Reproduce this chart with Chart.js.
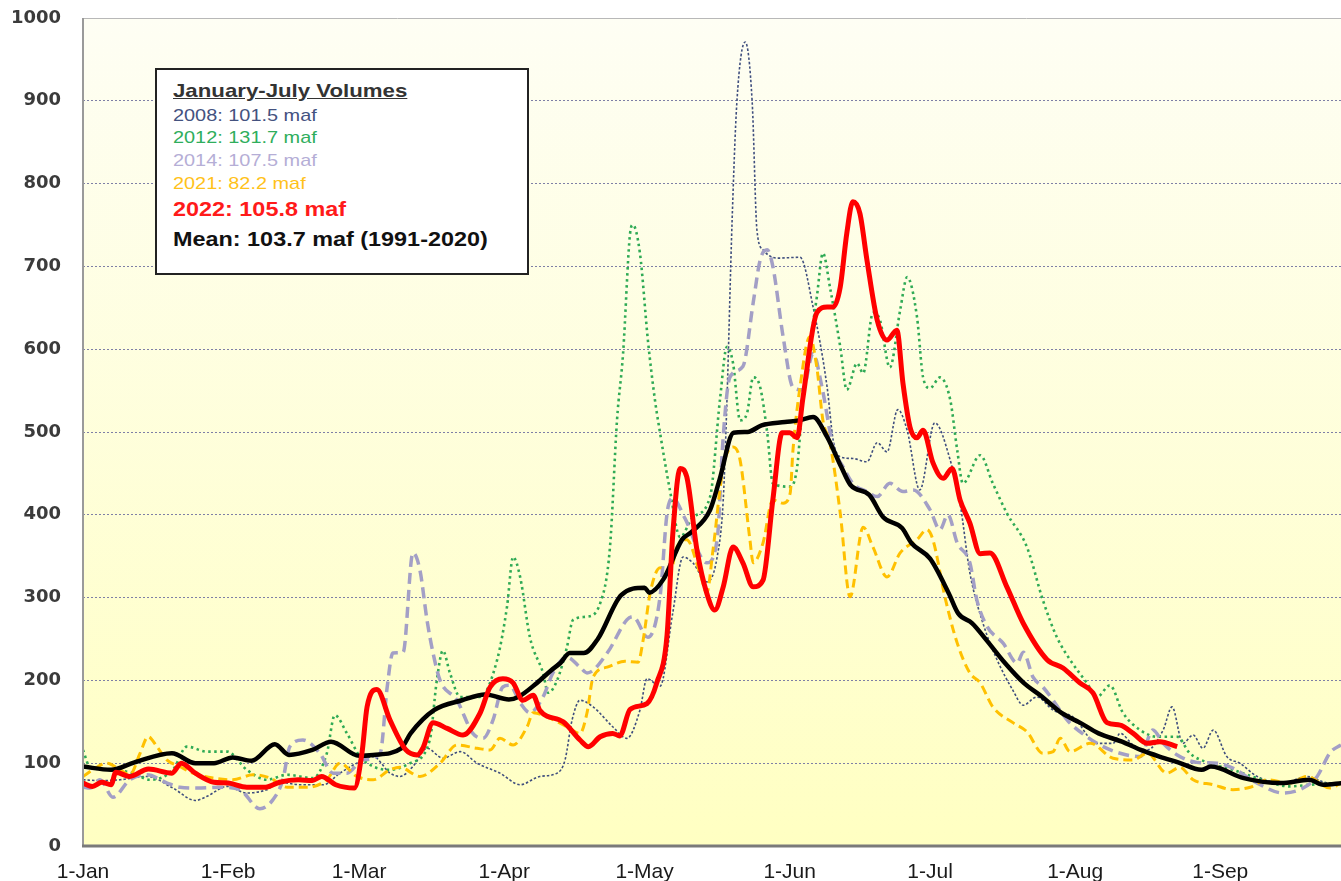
<!DOCTYPE html>
<html>
<head>
<meta charset="utf-8">
<title>January-July Volumes</title>
<script src="https://cdn.jsdelivr.net/npm/chart.js@4.4.1/dist/chart.umd.min.js"></script>
<style>
  html, body { margin: 0; padding: 0; background: #fff; }
  #wrap { position: relative; width: 1341px; height: 881px; }
  #legendBox {
    position: absolute; left: 155px; top: 68px; width: 370px; height: 203px;
    background: #fff; border: 2px solid #222;
    font-family: "Liberation Sans", Arial, sans-serif;
  }
  .row { position: absolute; left: 16px; white-space: nowrap; line-height: 1; transform-origin: 0 50%; transform: scaleX(1.17); }
</style>
</head>
<body>
<div id="wrap">
  <canvas id="myChart" width="1341" height="881"></canvas>
  <div id="legendBox">
    <div class="row" style="top:11px; font-size:19px; font-weight:bold; color:#333; text-decoration:underline;">January-July Volumes</div>
    <div class="row" style="top:37px; font-size:17px; color:#44527f;">2008: 101.5 maf</div>
    <div class="row" style="top:59px; font-size:17px; color:#2fae5c;">2012: 131.7 maf</div>
    <div class="row" style="top:82px; font-size:17px; color:#b5aed6;">2014: 107.5 maf</div>
    <div class="row" style="top:105px; font-size:17px; color:#ffc21a;">2021: 82.2 maf</div>
    <div class="row" style="top:129px; font-size:20px; font-weight:bold; color:#ff1a1a;">2022: 105.8 maf</div>
    <div class="row" style="top:159px; font-size:20px; font-weight:bold; color:#111;">Mean: 103.7 maf (1991-2020)</div>
  </div>
</div>
<script>
// x = day of year (0 = 1-Jan), y = volume
var monthDays = [0, 31, 59, 90, 120, 151, 181, 212, 243];
var monthLabels = ['1-Jan', '1-Feb', '1-Mar', '1-Apr', '1-May', '1-Jun', '1-Jul', '1-Aug', '1-Sep'];

var days2008 = [0,3.6,7.9,13.7,19.2,24,26.5,30.8,35,39.3,42.1,46.4,51.3,54.9,58.5,62,65.6,67.7,70.5,73.5,76.9,80.6,84.2,89.1,93.4,97.6,101.3,103,104.5,106.2,109,113.2,116.2,119,120.5,123.3,126,128.2,130.3,133.3,135.5,136.8,137.6,138.7,139.7,141.5,143,144,145.3,148.3,153.2,156,159,160.3,161.8,164.5,167.5,169.7,171.8,174.1,176.1,178.8,182,185.3,187.4,189.5,192.3,195.3,198.7,200.9,203.8,207.3,211.5,216.7,220.1,221.6,224.4,227.4,230.8,232.7,235,237.2,239.3,241.5,244.4,247.2,250.9,256.4,261.5,266.2,268.8];
var vol2008 = [80,79,80,84,70,55,60,72,64,68,77,74,74,88,100,108,88,84,96,118,106,114,100,88,74,84,88,104,152,176,168,144,130,164,202,193,281,349,342,319,349,418,539,756,897,971,897,744,720,710,711,651,554,490,470,468,464,487,476,527,502,430,511,466,414,330,269,225,188,170,180,164,156,124,124,136,122,116,140,168,124,134,118,140,108,100,84,76,84,76,76];

var days2012 = [0,1.5,6.4,10.7,14.3,19.2,22.2,26.5,30.8,35,39.3,43.6,49.1,52.1,53.8,56.4,59.2,62,65.6,69.9,74.1,75.6,76.9,78.4,80.6,84.8,88.5,90.6,91.9,93.4,95.5,98.3,99.4,101.3,103.4,104.7,107.7,110.5,112.6,114.1,115.4,116.9,117.5,119,120.7,122.2,123.3,125.4,127.6,130.3,134,136.1,137.6,138.9,140.4,141.9,143.2,144.7,146.2,147.4,151.1,152.6,153.8,156.8,158.1,159.6,161.8,163.2,165.4,166.7,168.8,170.3,172.4,174.6,176.1,178.2,179.5,181,183.1,185.3,186.8,188,191.7,194.4,197.4,201.7,205.1,208.1,210.9,214.5,216.7,219.4,222.2,225.9,229.5,233.8,236.5,240.2,245.7,250.9,257.9,262.2,268.8];
var vol2012 = [116,95,92,88,80,92,120,114,114,92,80,86,82,112,158,136,108,96,92,100,128,200,236,209,180,180,225,289,349,325,252,209,185,200,240,273,277,293,361,514,595,740,750,716,611,539,499,430,373,397,422,539,603,583,514,523,566,554,499,438,434,458,539,663,716,675,603,551,583,571,644,635,578,647,687,639,566,553,566,539,478,438,472,438,402,361,297,252,225,197,180,194,161,140,132,132,112,101,92,82,72,74,76];

var days2014 = [0,1.5,3.6,6.4,10,13.7,18,20.7,24.4,29.3,33.5,37.8,40.6,42.7,44.2,47,50.6,53.4,56.4,59.8,63.5,65,66.2,68.4,70.5,72,73.5,74.8,76.3,79.9,83.3,85.5,87.6,89.7,91.2,93.4,95.5,98.3,100.4,103.4,106.2,107.7,112,116.2,117.5,120.7,123.3,124.8,126,128.6,133.3,135.5,136.8,138.2,141,143.2,144.7,146.2,147.4,149.6,151.7,153.8,156,157.9,160.3,162.4,164.5,167.5,169.7,172.4,175.2,177.4,181,183.1,184.8,186.8,189.5,191,193.2,196.6,199.6,200.9,203,205.1,207.3,210.3,214.5,217.3,221.6,225.9,228.6,230.8,233.8,238,242.3,245.7,250.9,256.4,260.7,263.7,266.5,268.8];
var vol2014 = [71,70,80,59,80,86,76,71,70,71,68,45,56,80,120,128,112,88,88,104,112,192,233,234,354,333,273,233,200,176,136,130,152,192,194,173,161,180,209,228,216,209,233,273,277,252,301,402,420,396,342,370,495,566,579,656,708,720,700,615,554,551,595,554,482,458,438,428,422,438,428,430,406,382,400,366,342,297,265,245,221,234,204,192,176,152,132,122,112,108,140,124,110,101,100,94,76,64,70,84,113,122];

var days2021 = [0,2.1,5.1,7.9,10,12.2,13.9,15.8,17.9,20.7,23.5,27.8,32,36.3,40,43.6,47.9,52.1,54.9,58.5,62,65.6,67.7,72,76.3,79.9,84.2,87,89.1,91.9,94.9,96.2,99.1,103.4,106.2,107.7,109,112,115.8,118.6,119.7,121.2,123.3,125.4,126.9,129,131.8,133.3,134.6,136.8,138.9,140.4,142.5,143.2,145.3,147.4,149.6,151.1,151.7,153.2,155.3,156.8,158.1,159.6,161.8,163.9,166.7,168.8,171.8,174.6,178.2,180.3,181.6,184.2,186.8,189.5,191.7,194.4,198.7,201.7,205.1,207.3,208.8,210.9,215.2,220.1,224.4,227.4,231.6,234.4,237.2,241.5,245.7,249.4,253,257.9,261.5,266.5,268.8];
var vol2021 = [84,92,100,92,86,112,132,120,104,96,88,82,80,86,82,71,71,80,100,84,80,92,95,84,100,122,118,116,130,122,144,161,156,144,136,161,204,216,223,222,249,306,336,330,361,370,330,306,357,458,482,466,370,342,366,418,414,426,478,554,615,578,514,487,402,301,385,361,325,354,370,382,370,300,245,209,197,168,149,138,112,114,130,114,124,106,104,112,88,95,80,74,68,71,80,76,84,70,76];

var days2022 = [0,2,4,6,7,10,14,19,21,24,28,31,35,39,42,46,49,51,54,58,59.6,60.7,62.8,65.6,69,71.4,72.6,74.8,77.8,81.2,84.8,87,89.7,91.9,94,96.2,97.6,102.6,106.2,108,110.5,113.2,114.7,116.9,120.5,122.6,124.8,126,127.6,129,131.2,133.3,135,136.8,138.9,141,143.2,145.3,147.4,149.4,151,152.6,153.8,156.8,159,160.3,161.8,163.2,164.5,166,167.5,169.7,171.8,173.9,175.2,176.7,178.2,179.5,181.6,183.8,185.7,187.4,189.5,191.7,193.8,197.4,200.9,206,209.4,213,215.8,218.8,221.6,224.4,227.4,230.1,233.8];
var vol2022 = [76,72,77,74,89,84,93,88,100,88,77,76,71,71,77,80,79,84,74,70,112,168,189,152,116,110,118,149,142,134,160,192,202,197,176,182,164,150,128,120,132,136,133,165,172,197,255,375,456,446,357,305,285,313,361,342,313,321,418,499,499,493,540,644,651,651,675,740,778,764,708,635,611,623,559,506,493,502,463,444,456,418,390,353,354,313,269,225,215,197,185,149,146,136,124,126,120];

var daysMean = [0,6,11,19,24,28,32,36,41,44,49,53,59,62,68,70,75,81,86,91,93,97,100,102,104,107,110,115,120,121,124,128,130,134,136,139,142,145,150,153,156,159,162,164,168,171,175,177,181,185,187,190,193,197,201,205,209,213,217,222,226,230,234,239,241,248,256,262,265,269];
var volMean = [96,92,101,112,100,100,107,103,123,110,116,126,109,110,118,136,164,176,183,177,180,197,212,221,233,233,250,303,312,306,322,370,379,406,442,499,500,508,512,514,518,494,458,436,424,397,384,366,347,305,281,269,249,221,197,180,161,149,136,126,116,108,101,92,96,82,76,80,74,76];

function pts(days, vals) {
  return days.map(function(d, i) { return { x: d, y: vals[i] }; });
}

var plotFrame = {
  id: 'plotFrame',
  beforeDraw: function(chart) {
    var a = chart.chartArea, c = chart.ctx;
    var g = c.createLinearGradient(0, a.top, 0, a.bottom);
    g.addColorStop(0, '#FEFEF4');
    g.addColorStop(1, '#FFFFC2');
    c.save();
    c.fillStyle = g;
    c.fillRect(a.left, a.top, a.right - a.left, a.bottom - a.top);
    c.restore();
  },
  afterDraw: function(chart) {
    var a = chart.chartArea, c = chart.ctx;
    c.save();
    c.strokeStyle = '#b8b8b8'; c.lineWidth = 1;
    c.beginPath(); c.moveTo(a.left, a.top + 0.5); c.lineTo(a.right, a.top + 0.5); c.stroke();
    c.strokeStyle = '#9a9a9a'; c.lineWidth = 2;
    c.beginPath(); c.moveTo(a.left, a.top); c.lineTo(a.left, a.bottom); c.stroke();
    c.strokeStyle = '#7a7a7a'; c.lineWidth = 3;
    c.beginPath(); c.moveTo(a.left - 1, a.bottom); c.lineTo(a.right, a.bottom); c.stroke();
    c.restore();
  }
};

var common = { pointRadius: 0, fill: false, cubicInterpolationMode: 'monotone', borderJoinStyle: 'round' };

var ctx = document.getElementById('myChart').getContext('2d');
var chart = new Chart(ctx, {
  type: 'line',
  data: {
    datasets: [
      Object.assign({ label: '2008', data: pts(days2008, vol2008), borderColor: '#3F4E7E', borderWidth: 1.6, borderDash: [2.5, 2], order: 6 }, common),
      Object.assign({ label: '2012', data: pts(days2012, vol2012), borderColor: '#2FAA55', borderWidth: 2.6, borderDash: [2.5, 3.5], order: 5 }, common),
      Object.assign({ label: '2014', data: pts(days2014, vol2014), borderColor: '#A39FC6', borderWidth: 3.5, borderDash: [11, 6], order: 4 }, common),
      Object.assign({ label: '2021', data: pts(days2021, vol2021), borderColor: '#FFC000', borderWidth: 3, borderDash: [9, 5], order: 3 }, common),
      Object.assign({ label: 'Mean', data: pts(daysMean, volMean), borderColor: '#000000', borderWidth: 4.5, order: 2 }, common),
      Object.assign({ label: '2022', data: pts(days2022, vol2022), borderColor: '#FF0000', borderWidth: 5, order: 1 }, common)
    ]
  },
  options: {
    responsive: false,
    animation: false,
    layout: { padding: { top: 18, right: 0, left: 0, bottom: 0 } },
    plugins: { legend: { display: false }, tooltip: { enabled: false } },
    scales: {
      x: {
        type: 'linear', min: 0, max: 268.8,
        grid: { display: false },
        border: { display: false },
        afterBuildTicks: function(s) { s.ticks = monthDays.map(function(d) { return { value: d }; }); },
        ticks: {
          autoSkip: false, maxRotation: 0, padding: 6, color: '#1a1a1a',
          font: { family: 'Liberation Sans', size: 21 },
          callback: function(v) { var i = monthDays.indexOf(v); return i >= 0 ? monthLabels[i] : ''; }
        },
        afterFit: function(s) { s.height = 35; }
      },
      y: {
        min: 0, max: 1000,
        ticks: {
          stepSize: 100, padding: 22, color: '#3b3b3b',
          font: { family: 'DejaVu Sans', size: 18, weight: 'bold' },
          callback: function(v) { return String(v); }
        },
        grid: {
          drawTicks: false, lineWidth: 1,
          color: function(c) { return (c.tick && c.tick.value > 0 && c.tick.value < 1000) ? '#7E7FA6' : 'rgba(0,0,0,0)'; }
        },
        border: { display: false, dash: [2, 2] },
        afterFit: function(s) { s.width = 83; s.paddingTop = 0; s.paddingBottom = 0; }
      }
    }
  },
  plugins: [plotFrame]
});
</script>
</body>
</html>
